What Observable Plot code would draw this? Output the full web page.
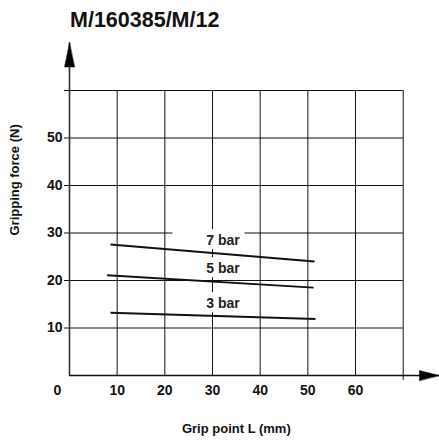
<!DOCTYPE html>
<html><head><meta charset="utf-8">
<script src="https://cdn.jsdelivr.net/npm/d3@7"></script>
<script src="https://cdn.jsdelivr.net/npm/@observablehq/plot@0.6"></script>
<style>body{margin:0;background:#fff}</style>
</head><body><div id="chart"></div>
<script>
// ---- data ----
const title = "M/160385/M/12";
const xLabel = "Grip point L (mm)";
const yLabel = "Gripping force (N)";
const xTicks = [10, 20, 30, 40, 50, 60];
const xZero = [0];
const xGrid = [10, 20, 30, 40, 50, 60, 70];
const xEndTick = [70];
const yGrid = [10, 20, 30, 40, 50, 60];
const series = ["7 bar", "5 bar", "3 bar"];
const lenStart = [8.6, 7.9, 8.6];
const lenEnd = [51.4, 51.2, 51.6];
const forceStart = [27.6, 21.1, 13.2];
const forceEnd = [24.0, 18.5, 11.9];
const labelLen = [32.2, 32.2, 32.2];
const labelForce = [28.4, 22.45, 15.1];
const xAxisTip = 77.6;
const yAxisTip = 70;

const FONT = '"Liberation Sans", Arial, Helvetica, sans-serif';

const segs = series.map((s, i) => ({s, x1: lenStart[i], x2: lenEnd[i], y1: forceStart[i], y2: forceEnd[i]}));
const labels = series.map((s, i) => ({s, x: labelLen[i], y: labelForce[i]}));

const arrowHead = {
  draw(context, l) {
    context.moveTo(0, -l);
    context.lineTo(-5, 0);
    context.lineTo(5, 0);
    context.closePath();
  }
};

const chart = Plot.plot({
  width: 439,
  height: 443,
  marginLeft: 69,
  marginRight: 36.3,
  marginTop: 90,
  marginBottom: 68,
  style: {fontFamily: FONT, fontWeight: "bold", color: "#111", background: "#fff", overflow: "visible"},
  x: {domain: [0, 70]},
  y: {domain: [0, 60]},
  marks: [
    Plot.ruleY(yGrid, {x1: 0, x2: 70, stroke: "#111", strokeWidth: 1}),
    Plot.ruleX(xGrid, {y1: 0, y2: 60, stroke: "#111", strokeWidth: 1}),
    Plot.axisY(yGrid, {tickSize: 5, tickPadding: 2, fontSize: 14, tickFormat: d => d === 60 ? "" : d, label: null, stroke: "#111"}),
    Plot.axisX(xEndTick, {tickSize: 5, tickFormat: () => "", label: null}),
    Plot.axisX(xTicks, {tickSize: 0, tickPadding: 10, fontSize: 14, label: null}),
    Plot.axisX(xZero, {tickSize: 0, tickPadding: 10, fontSize: 14, dx: -12, label: null}),
    Plot.ruleX([0], {y1: 0, y2: yAxisTip, stroke: "#333", strokeWidth: 1.6}),
    Plot.ruleY([0], {x1: 0, x2: xAxisTip, stroke: "#111", strokeWidth: 1.3}),
    Plot.vector([{x: 0, y: yAxisTip}], {x: "x", y: "y", length: 24, rotate: 0, anchor: "end", shape: arrowHead, fill: "#000", stroke: "#000", strokeWidth: 0.5}),
    Plot.vector([{x: xAxisTip, y: 0}], {x: "x", y: "y", length: 20, rotate: 90, anchor: "end", shape: arrowHead, fill: "#000", stroke: "#000", strokeWidth: 0.5}),
    Plot.rect(labels, {x1: "x", x2: "x", y1: "y", y2: "y", insetLeft: -50, insetRight: -22, insetTop: -11, insetBottom: -9, fill: "#fff"}),
    Plot.link(segs, {x1: "x1", y1: "y1", x2: "x2", y2: "y2", stroke: "#111", strokeWidth: 2}),
    Plot.text(labels, {x: "x", y: "y", text: "s", fontSize: 14, fontWeight: "bold", fill: "#222"}),
    Plot.text([title], {frameAnchor: "top-left", text: d => d, textAnchor: "start", fontSize: 21.5, fontWeight: "bold", dx: 0.5, dy: -79, fill: "#111"}),
    Plot.text([yLabel], {frameAnchor: "left", text: d => d, rotate: -90, fontSize: 13, fontWeight: "bold", dx: -55, dy: 2.5, fill: "#111"}),
    Plot.text([xLabel], {frameAnchor: "bottom", text: d => d, fontSize: 13, fontWeight: "bold", dy: 57, fill: "#111"})
  ]
});
document.getElementById("chart").appendChild(chart);
</script>
</body></html>
